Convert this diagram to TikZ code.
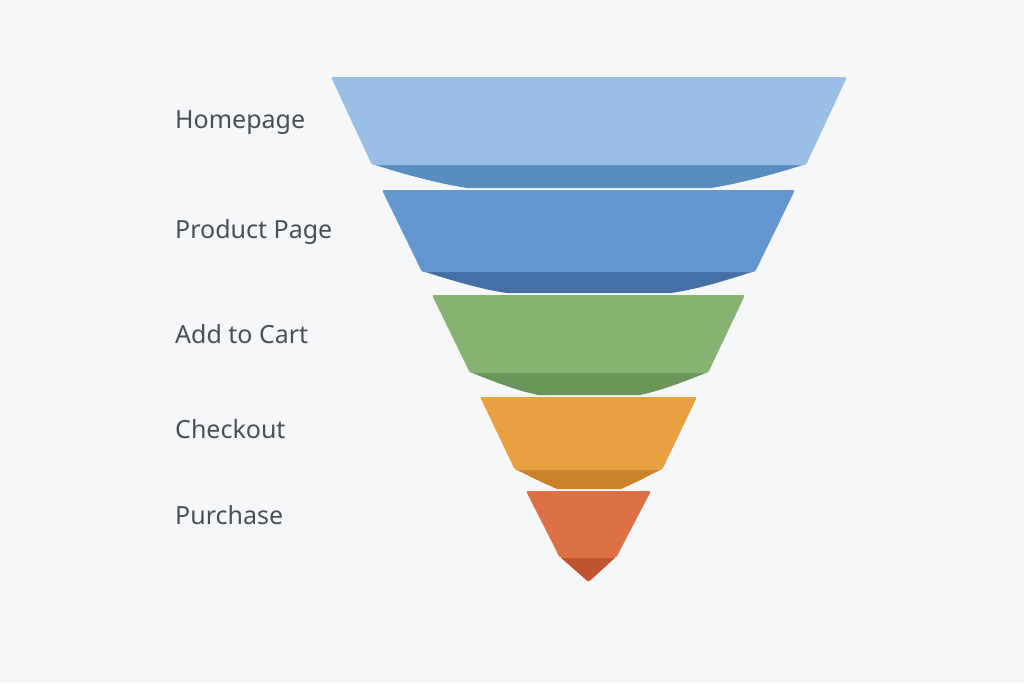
\documentclass[tikz,border=0pt]{standalone}
\usepackage{fontspec}
\setmainfont{Noto Sans}
\usepackage{tikz}
\usetikzlibrary{positioning}

\definecolor{bgcol}{HTML}{F5F7F9}
\definecolor{txtcol}{HTML}{4A4F55}
\definecolor{homelight}{HTML}{99BFE6}
\definecolor{homedark}{HTML}{5A8DBF}
\definecolor{prodlight}{HTML}{6497CF}
\definecolor{proddark}{HTML}{4470A8}
\definecolor{cartlight}{HTML}{86B272}
\definecolor{cartdark}{HTML}{6A9659}
\definecolor{checklight}{HTML}{E8A040}
\definecolor{checkdark}{HTML}{C9822A}
\definecolor{buylight}{HTML}{DD7045}
\definecolor{buydark}{HTML}{BF5530}

\begin{document}
\begin{tikzpicture}[x=1pt,y=-1pt]
\tikzset{every node/.style={inner sep=0pt,text=txtcol,font=\fontsize{25}{30}\selectfont},
  stage/.style={anchor=base west},
  band/.style={rounded corners=2pt}}
\fill [bgcol] (0,0) rectangle (1024,683);
\useasboundingbox (0,0) rectangle (1024,683);
\fill [homedark] (372,164) -- (806,164) .. controls (775,174) and (742,183) .. (711,188) -- (467,188) .. controls (436,183) and (403,174) .. (372,164) -- cycle;
\fill [homelight,band] (331,77) -- (847,77) -- (806,165) -- (372,165) -- cycle;
\fill [proddark] (422,271) -- (755,271) .. controls (727,280) and (699,289) .. (671,293) -- (507,293) .. controls (479,289) and (451,280) .. (422,271) -- cycle;
\fill [prodlight,band] (382,190) -- (795,190) -- (755,272) -- (422,272) -- cycle;
\fill [cartdark] (470,372) -- (708,372) .. controls (686,381) and (663,390) .. (640,395) -- (538,395) .. controls (515,390) and (492,381) .. (470,372) -- cycle;
\fill [cartlight,band] (432,295) -- (745,295) -- (708,373) -- (470,373) -- cycle;
\fill [checkdark] (515,469) -- (662,469) .. controls (648,476) and (635,483) .. (621,489) -- (557,489) .. controls (543,483) and (529,476) .. (515,469) -- cycle;
\fill [checklight,band] (480,397) -- (697,397) -- (662,470) -- (515,470) -- cycle;
\fill [buydark,rounded corners=1.5pt] (560,557) -- (616,557) -- (588.5,582) -- cycle;
\fill [buylight,band] (526,491) -- (651,491) -- (616,558) -- (560,558) -- cycle;
\node [stage] (homepage) at (175,128) {Homepage};
\node [stage] (product) at (175,238) {Product Page};
\node [stage] (cart) at (175,343) {Add to Cart};
\node [stage] (checkout) at (175,438) {Checkout};
\node [stage] (purchase) at (175,524) {Purchase};
\end{tikzpicture}
\end{document}
